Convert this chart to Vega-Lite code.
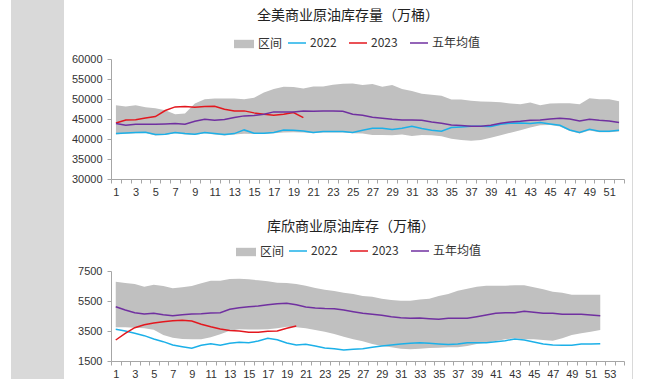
{
  "$schema": "https://vega.github.io/schema/vega-lite/v6.json",
  "background": "white",
  "padding": {"left": 11, "top": 0, "right": 0, "bottom": 0},
  "config": {
    "font": "Liberation Sans",
    "view": {"stroke": null},
    "axis": {"domainColor": "#a6a6a6", "tickColor": "#a6a6a6", "labelColor": "#333333", "labelFontSize": 11, "labelFont": "Liberation Sans", "tickSize": 4, "grid": false, "title": null},
    "title": {"font": "Noto Sans CJK SC", "fontSize": 14, "fontWeight": "normal", "color": "#222222", "anchor": "middle", "frame": "bounds", "offset": 10,
      "subtitleFont": "Noto Sans CJK SC", "subtitleFontSize": 14, "subtitleColor": "#222222"},
    "legend": {
      "orient": "none", "direction": "horizontal", "title": null, "padding": 0,
      "labelFont": "Noto Sans CJK SC", "labelFontSize": 12, "labelColor": "#333333",
      "columnPadding": 9, "labelOffset": 3
    }
  },
  "datasets": {
    "us_band": [
      {"week":1,"lo":41150,"hi":48450},{"week":2,"lo":41320,"hi":48110},{"week":3,"lo":41410,"hi":48450},{"week":4,"lo":41490,"hi":47950},{"week":5,"lo":40900,"hi":47700},{"week":6,"lo":40990,"hi":47200},{"week":7,"lo":41410,"hi":46200},{"week":8,"lo":41150,"hi":46360},{"week":9,"lo":40990,"hi":48900},{"week":10,"lo":41410,"hi":49960},
      {"week":11,"lo":41150,"hi":50120},{"week":12,"lo":40900,"hi":50120},{"week":13,"lo":41150,"hi":50120},{"week":14,"lo":41300,"hi":49960},{"week":15,"lo":41240,"hi":50290},{"week":16,"lo":41240,"hi":51630},{"week":17,"lo":41410,"hi":52470},{"week":18,"lo":41600,"hi":53050},{"week":19,"lo":41700,"hi":52970},{"week":20,"lo":41600,"hi":52630},
      {"week":21,"lo":41410,"hi":53130},{"week":22,"lo":41600,"hi":53130},{"week":23,"lo":41650,"hi":53550},{"week":24,"lo":41650,"hi":53800},{"week":25,"lo":41410,"hi":53880},{"week":26,"lo":41400,"hi":53470},{"week":27,"lo":41000,"hi":53720},{"week":28,"lo":41000,"hi":53050},{"week":29,"lo":40920,"hi":53470},{"week":30,"lo":41100,"hi":52470},
      {"week":31,"lo":40750,"hi":51970},{"week":32,"lo":41000,"hi":51300},{"week":33,"lo":40920,"hi":51040},{"week":34,"lo":40670,"hi":50790},{"week":35,"lo":40080,"hi":49880},{"week":36,"lo":39750,"hi":49880},{"week":37,"lo":39580,"hi":49540},{"week":38,"lo":39750,"hi":49380},{"week":39,"lo":40340,"hi":49300},{"week":40,"lo":40920,"hi":49210},
      {"week":41,"lo":41590,"hi":48870},{"week":42,"lo":42180,"hi":48700},{"week":43,"lo":42850,"hi":49130},{"week":44,"lo":43430,"hi":48450},{"week":45,"lo":43500,"hi":48870},{"week":46,"lo":43150,"hi":48960},{"week":47,"lo":42000,"hi":48960},{"week":48,"lo":41350,"hi":48700},{"week":49,"lo":42150,"hi":50210},{"week":50,"lo":41700,"hi":49960},
      {"week":51,"lo":41700,"hi":49960},{"week":52,"lo":41900,"hi":49460}
    ],
    "us_lines": [
      {"series":"2022","week":1,"value":41350},{"series":"2022","week":2,"value":41520},{"series":"2022","week":3,"value":41610},{"series":"2022","week":4,"value":41690},{"series":"2022","week":5,"value":41100},{"series":"2022","week":6,"value":41190},{"series":"2022","week":7,"value":41610},{"series":"2022","week":8,"value":41350},{"series":"2022","week":9,"value":41190},{"series":"2022","week":10,"value":41610},
      {"series":"2022","week":11,"value":41350},{"series":"2022","week":12,"value":41100},{"series":"2022","week":13,"value":41350},{"series":"2022","week":14,"value":42270},{"series":"2022","week":15,"value":41440},{"series":"2022","week":16,"value":41440},{"series":"2022","week":17,"value":41610},{"series":"2022","week":18,"value":42270},{"series":"2022","week":19,"value":42190},{"series":"2022","week":20,"value":42020},
      {"series":"2022","week":21,"value":41610},{"series":"2022","week":22,"value":41860},{"series":"2022","week":23,"value":41860},{"series":"2022","week":24,"value":41860},{"series":"2022","week":25,"value":41610},{"series":"2022","week":26,"value":42190},{"series":"2022","week":27,"value":42680},{"series":"2022","week":28,"value":42680},{"series":"2022","week":29,"value":42360},{"series":"2022","week":30,"value":42680},
      {"series":"2022","week":31,"value":43180},{"series":"2022","week":32,"value":42600},{"series":"2022","week":33,"value":42190},{"series":"2022","week":34,"value":41940},{"series":"2022","week":35,"value":42850},{"series":"2022","week":36,"value":43020},{"series":"2022","week":37,"value":43180},{"series":"2022","week":38,"value":43180},{"series":"2022","week":39,"value":43100},{"series":"2022","week":40,"value":43690},
      {"series":"2022","week":41,"value":43940},{"series":"2022","week":42,"value":44020},{"series":"2022","week":43,"value":43860},{"series":"2022","week":44,"value":44100},{"series":"2022","week":45,"value":43770},{"series":"2022","week":46,"value":43430},{"series":"2022","week":47,"value":42270},{"series":"2022","week":48,"value":41610},{"series":"2022","week":49,"value":42440},{"series":"2022","week":50,"value":41940},
      {"series":"2022","week":51,"value":41940},{"series":"2022","week":52,"value":42190},
      {"series":"2023","week":1,"value":44000},{"series":"2023","week":2,"value":44770},{"series":"2023","week":3,"value":44800},{"series":"2023","week":4,"value":45270},{"series":"2023","week":5,"value":45600},{"series":"2023","week":6,"value":47120},{"series":"2023","week":7,"value":48030},{"series":"2023","week":8,"value":48110},{"series":"2023","week":9,"value":47950},{"series":"2023","week":10,"value":48100},
      {"series":"2023","week":11,"value":48190},{"series":"2023","week":12,"value":47450},{"series":"2023","week":13,"value":47030},{"series":"2023","week":14,"value":47030},{"series":"2023","week":15,"value":46530},{"series":"2023","week":16,"value":46200},{"series":"2023","week":17,"value":45940},{"series":"2023","week":18,"value":46200},{"series":"2023","week":19,"value":46620},{"series":"2023","week":20,"value":45360},
      {"series":"五年均值","week":1,"value":43860},{"series":"五年均值","week":2,"value":43430},{"series":"五年均值","week":3,"value":43690},{"series":"五年均值","week":4,"value":43690},{"series":"五年均值","week":5,"value":43690},{"series":"五年均值","week":6,"value":43780},{"series":"五年均值","week":7,"value":43860},{"series":"五年均值","week":8,"value":43690},{"series":"五年均值","week":9,"value":44440},{"series":"五年均值","week":10,"value":44940},
      {"series":"五年均值","week":11,"value":44690},{"series":"五年均值","week":12,"value":44860},{"series":"五年均值","week":13,"value":45360},{"series":"五年均值","week":14,"value":45780},{"series":"五年均值","week":15,"value":45860},{"series":"五年均值","week":16,"value":46200},{"series":"五年均值","week":17,"value":46780},{"series":"五年均值","week":18,"value":46780},{"series":"五年均值","week":19,"value":46780},{"series":"五年均值","week":20,"value":47030},
      {"series":"五年均值","week":21,"value":46950},{"series":"五年均值","week":22,"value":47030},{"series":"五年均值","week":23,"value":47030},{"series":"五年均值","week":24,"value":46950},{"series":"五年均值","week":25,"value":46200},{"series":"五年均值","week":26,"value":45940},{"series":"五年均值","week":27,"value":45440},{"series":"五年均值","week":28,"value":45190},{"series":"五年均值","week":29,"value":44940},{"series":"五年均值","week":30,"value":44770},
      {"series":"五年均值","week":31,"value":44770},{"series":"五年均值","week":32,"value":44690},{"series":"五年均值","week":33,"value":44270},{"series":"五年均值","week":34,"value":43940},{"series":"五年均值","week":35,"value":43510},{"series":"五年均值","week":36,"value":43350},{"series":"五年均值","week":37,"value":43180},{"series":"五年均值","week":38,"value":43180},{"series":"五年均值","week":39,"value":43430},{"series":"五年均值","week":40,"value":43940},
      {"series":"五年均值","week":41,"value":44270},{"series":"五年均值","week":42,"value":44440},{"series":"五年均值","week":43,"value":44690},{"series":"五年均值","week":44,"value":44770},{"series":"五年均值","week":45,"value":45020},{"series":"五年均值","week":46,"value":45190},{"series":"五年均值","week":47,"value":45020},{"series":"五年均值","week":48,"value":44520},{"series":"五年均值","week":49,"value":44940},{"series":"五年均值","week":50,"value":44690},
      {"series":"五年均值","week":51,"value":44520},{"series":"五年均值","week":52,"value":44100}
    ],
    "cu_band": [
      {"week":1,"lo":3744,"hi":6790},{"week":2,"lo":3744,"hi":6700},{"week":3,"lo":3720,"hi":6633},{"week":4,"lo":3678,"hi":6456},{"week":5,"lo":3589,"hi":6589},{"week":6,"lo":3233,"hi":6500},{"week":7,"lo":3056,"hi":6344},{"week":8,"lo":2967,"hi":6411},{"week":9,"lo":2944,"hi":6500},{"week":10,"lo":2944,"hi":6678},
      {"week":11,"lo":3078,"hi":6856},{"week":12,"lo":3278,"hi":6856},{"week":13,"lo":3522,"hi":6967},{"week":14,"lo":3611,"hi":6990},{"week":15,"lo":3600,"hi":6944},{"week":16,"lo":3600,"hi":6878},{"week":17,"lo":3611,"hi":6811},{"week":18,"lo":3678,"hi":6722},{"week":19,"lo":3789,"hi":6700},{"week":20,"lo":3744,"hi":6633},
      {"week":21,"lo":3678,"hi":6520},{"week":22,"lo":3567,"hi":6370},{"week":23,"lo":3456,"hi":6250},{"week":24,"lo":3300,"hi":6167},{"week":25,"lo":3122,"hi":6056},{"week":26,"lo":2944,"hi":5967},{"week":27,"lo":2811,"hi":5833},{"week":28,"lo":2633,"hi":5789},{"week":29,"lo":2500,"hi":5656},{"week":30,"lo":2411,"hi":5567},
      {"week":31,"lo":2322,"hi":5522},{"week":32,"lo":2278,"hi":5522},{"week":33,"lo":2322,"hi":5600},{"week":34,"lo":2367,"hi":5656},{"week":35,"lo":2389,"hi":5833},{"week":36,"lo":2411,"hi":5967},{"week":37,"lo":2411,"hi":6189},{"week":38,"lo":2500,"hi":6322},{"week":39,"lo":2633,"hi":6456},{"week":40,"lo":2722,"hi":6522},
      {"week":41,"lo":2833,"hi":6522},{"week":42,"lo":2944,"hi":6522},{"week":43,"lo":3011,"hi":6544},{"week":44,"lo":2950,"hi":6544},{"week":45,"lo":2944,"hi":6411},{"week":46,"lo":2900,"hi":6278},{"week":47,"lo":2856,"hi":6122},{"week":48,"lo":3011,"hi":6056},{"week":49,"lo":3233,"hi":5922},{"week":50,"lo":3344,"hi":5922},
      {"week":51,"lo":3456,"hi":5922},{"week":52,"lo":3567,"hi":5922}
    ],
    "cu_lines": [
      {"series":"2022","week":1,"value":3611},{"series":"2022","week":2,"value":3500},{"series":"2022","week":3,"value":3344},{"series":"2022","week":4,"value":3189},{"series":"2022","week":5,"value":2967},{"series":"2022","week":6,"value":2789},{"series":"2022","week":7,"value":2567},{"series":"2022","week":8,"value":2456},{"series":"2022","week":9,"value":2344},{"series":"2022","week":10,"value":2544},
      {"series":"2022","week":11,"value":2656},{"series":"2022","week":12,"value":2544},{"series":"2022","week":13,"value":2678},{"series":"2022","week":14,"value":2744},{"series":"2022","week":15,"value":2722},{"series":"2022","week":16,"value":2833},{"series":"2022","week":17,"value":3011},{"series":"2022","week":18,"value":2922},{"series":"2022","week":19,"value":2700},{"series":"2022","week":20,"value":2567},
      {"series":"2022","week":21,"value":2610},{"series":"2022","week":22,"value":2500},{"series":"2022","week":23,"value":2367},{"series":"2022","week":24,"value":2322},{"series":"2022","week":25,"value":2233},{"series":"2022","week":26,"value":2278},{"series":"2022","week":27,"value":2322},{"series":"2022","week":28,"value":2411},{"series":"2022","week":29,"value":2500},{"series":"2022","week":30,"value":2567},
      {"series":"2022","week":31,"value":2633},{"series":"2022","week":32,"value":2678},{"series":"2022","week":33,"value":2722},{"series":"2022","week":34,"value":2678},{"series":"2022","week":35,"value":2633},{"series":"2022","week":36,"value":2600},{"series":"2022","week":37,"value":2633},{"series":"2022","week":38,"value":2722},{"series":"2022","week":39,"value":2722},{"series":"2022","week":40,"value":2722},
      {"series":"2022","week":41,"value":2789},{"series":"2022","week":42,"value":2856},{"series":"2022","week":43,"value":2967},{"series":"2022","week":44,"value":2900},{"series":"2022","week":45,"value":2767},{"series":"2022","week":46,"value":2633},{"series":"2022","week":47,"value":2567},{"series":"2022","week":48,"value":2544},{"series":"2022","week":49,"value":2544},{"series":"2022","week":50,"value":2633},
      {"series":"2022","week":51,"value":2633},{"series":"2022","week":52,"value":2656},
      {"series":"2023","week":1,"value":2900},{"series":"2023","week":2,"value":3344},{"series":"2023","week":3,"value":3720},{"series":"2023","week":4,"value":3920},{"series":"2023","week":5,"value":4030},{"series":"2023","week":6,"value":4122},{"series":"2023","week":7,"value":4189},{"series":"2023","week":8,"value":4210},{"series":"2023","week":9,"value":4167},{"series":"2023","week":10,"value":3950},
      {"series":"2023","week":11,"value":3780},{"series":"2023","week":12,"value":3633},{"series":"2023","week":13,"value":3530},{"series":"2023","week":14,"value":3500},{"series":"2023","week":15,"value":3420},{"series":"2023","week":16,"value":3411},{"series":"2023","week":17,"value":3480},{"series":"2023","week":18,"value":3500},{"series":"2023","week":19,"value":3678},{"series":"2023","week":20,"value":3833},
      {"series":"五年均值","week":1,"value":5122},{"series":"五年均值","week":2,"value":4900},{"series":"五年均值","week":3,"value":4722},{"series":"五年均值","week":4,"value":4633},{"series":"五年均值","week":5,"value":4678},{"series":"五年均值","week":6,"value":4589},{"series":"五年均值","week":7,"value":4522},{"series":"五年均值","week":8,"value":4589},{"series":"五年均值","week":9,"value":4633},{"series":"五年均值","week":10,"value":4650},
      {"series":"五年均值","week":11,"value":4700},{"series":"五年均值","week":12,"value":4722},{"series":"五年均值","week":13,"value":4944},{"series":"五年均值","week":14,"value":5056},{"series":"五年均值","week":15,"value":5122},{"series":"五年均值","week":16,"value":5167},{"series":"五年均值","week":17,"value":5256},{"series":"五年均值","week":18,"value":5322},{"series":"五年均值","week":19,"value":5344},{"series":"五年均值","week":20,"value":5250},
      {"series":"五年均值","week":21,"value":5100},{"series":"五年均值","week":22,"value":5033},{"series":"五年均值","week":23,"value":5000},{"series":"五年均值","week":24,"value":4990},{"series":"五年均值","week":25,"value":4900},{"series":"五年均值","week":26,"value":4789},{"series":"五年均值","week":27,"value":4678},{"series":"五年均值","week":28,"value":4611},{"series":"五年均值","week":29,"value":4544},{"series":"五年均值","week":30,"value":4456},
      {"series":"五年均值","week":31,"value":4390},{"series":"五年均值","week":32,"value":4344},{"series":"五年均值","week":33,"value":4367},{"series":"五年均值","week":34,"value":4322},{"series":"五年均值","week":35,"value":4278},{"series":"五年均值","week":36,"value":4344},{"series":"五年均值","week":37,"value":4344},{"series":"五年均值","week":38,"value":4344},{"series":"五年均值","week":39,"value":4456},{"series":"五年均值","week":40,"value":4567},
      {"series":"五年均值","week":41,"value":4678},{"series":"五年均值","week":42,"value":4722},{"series":"五年均值","week":43,"value":4722},{"series":"五年均值","week":44,"value":4811},{"series":"五年均值","week":45,"value":4744},{"series":"五年均值","week":46,"value":4678},{"series":"五年均值","week":47,"value":4678},{"series":"五年均值","week":48,"value":4611},{"series":"五年均值","week":49,"value":4611},{"series":"五年均值","week":50,"value":4611},
      {"series":"五年均值","week":51,"value":4567},{"series":"五年均值","week":52,"value":4522}
    ],
    "strip": [{"part": "strip"}],
    "none": []
  },
  "concat": [
    {
      "data": {"name": "strip"},
      "width": 53, "height": 420,
      "mark": {"type": "rect", "color": "#d9d9d9"},
      "encoding": {}
    },
    {
      "concat": [
        {
          "data": {"name": "none"},
          "width": 473, "height": 1,
          "mark": {"type": "rect"},
          "encoding": {}
        },
        {
          "width": 513, "height": 120,
          "title": {"text": "全美商业原油库存量（万桶）", "offset": 10},
          "layer": [
            {
              "data": {"name": "us_band"},
              "mark": {"type": "area", "opacity": 1},
              "encoding": {
                "x": {"field": "week", "type": "ordinal", "bandPosition": 0.5,
                  "scale": {"type": "band", "paddingInner": 0, "paddingOuter": 0},
                  "axis": {"labelAngle": 0, "tickBand": "extent", "labelOverlap": false, "labelPadding": 3, "labelExpr": "datum.value % 2 === 1 ? datum.label : ''"}},
                "y": {"field": "hi", "type": "quantitative", "scale": {"domain": [30000, 60000], "nice": false, "zero": false},
                  "axis": {"values": [30000, 35000, 40000, 45000, 50000, 55000, 60000], "format": "d", "labelPadding": 5, "labelOverlap": false}},
                "y2": {"field": "lo"},
                "fill": {"datum": "区间", "type": "nominal",
                  "scale": {"domain": ["区间"], "range": ["#c0c0c0"]},
                  "legend": {"legendX": 122, "legendY": -26, "symbolType": "M-1,-0.42H1V0.42H-1Z", "symbolSize": 400}}
              }
            },
            {
              "data": {"name": "us_lines"},
              "mark": {"type": "line", "strokeWidth": 1.5},
              "encoding": {
                "x": {"field": "week", "type": "ordinal", "bandPosition": 0.5},
                "y": {"field": "value", "type": "quantitative",
                  "axis": {"values": [30000, 35000, 40000, 45000, 50000, 55000, 60000], "format": "d", "labelPadding": 5, "labelOverlap": false}},
                "stroke": {"field": "series", "type": "nominal",
                  "scale": {"domain": ["2022", "2023", "五年均值"], "range": ["#1cb0e8", "#e3171e", "#7030a0"]},
                  "legend": {"legendX": 176, "legendY": -26, "symbolType": "stroke", "symbolSize": 324, "symbolStrokeWidth": 1.5}}
              }
            }
          ]
        },
        {
          "width": 513, "height": 90,
          "title": {"text": " ", "fontSize": 11, "subtitle": "库欣商业原油库存（万桶）", "subtitlePadding": 4, "offset": 7},
          "layer": [
            {
              "data": {"name": "cu_band"},
              "mark": {"type": "area", "opacity": 1},
              "encoding": {
                "x": {"field": "week", "type": "ordinal", "bandPosition": 0.5,
                  "scale": {"type": "band", "paddingInner": 0, "paddingOuter": 0, "domain": [1,2,3,4,5,6,7,8,9,10,11,12,13,14,15,16,17,18,19,20,21,22,23,24,25,26,27,28,29,30,31,32,33,34,35,36,37,38,39,40,41,42,43,44,45,46,47,48,49,50,51,52,53,54]},
                  "axis": {"labelAngle": 0, "tickBand": "extent", "labelOverlap": false, "labelPadding": 3, "labelExpr": "datum.value % 2 === 1 ? datum.label : ''"}},
                "y": {"field": "hi", "type": "quantitative", "scale": {"domain": [1500, 7500], "nice": false, "zero": false},
                  "axis": {"values": [1500, 3500, 5500, 7500], "format": "d", "labelPadding": 5, "labelOverlap": false}},
                "y2": {"field": "lo"},
                "fill": {"datum": "区间", "type": "nominal",
                  "scale": {"domain": ["区间"], "range": ["#c0c0c0"]},
                  "legend": {"legendX": 124, "legendY": -30, "symbolType": "M-1,-0.42H1V0.42H-1Z", "symbolSize": 400}}
              }
            },
            {
              "data": {"name": "cu_lines"},
              "mark": {"type": "line", "strokeWidth": 1.5},
              "encoding": {
                "x": {"field": "week", "type": "ordinal", "bandPosition": 0.5},
                "y": {"field": "value", "type": "quantitative",
                  "axis": {"values": [1500, 3500, 5500, 7500], "format": "d", "labelPadding": 5, "labelOverlap": false}},
                "stroke": {"field": "series", "type": "nominal",
                  "scale": {"domain": ["2022", "2023", "五年均值"], "range": ["#1cb0e8", "#e3171e", "#7030a0"]},
                  "legend": {"legendX": 177, "legendY": -30, "symbolType": "stroke", "symbolSize": 324, "symbolStrokeWidth": 1.5}}
              }
            }
          ]
        }
      ],
      "columns": 1,
      "spacing": 8,
      "resolve": {"scale": {"fill": "independent", "stroke": "independent", "x": "independent", "y": "independent"}, "legend": {"fill": "independent", "stroke": "independent"}}
    },
    {
      "data": {"name": "strip"},
      "width": 1, "height": 420,
      "mark": {"type": "rect", "color": "#d9d9d9"},
      "encoding": {}
    }
  ],
  "columns": 3,
  "spacing": 7
}
